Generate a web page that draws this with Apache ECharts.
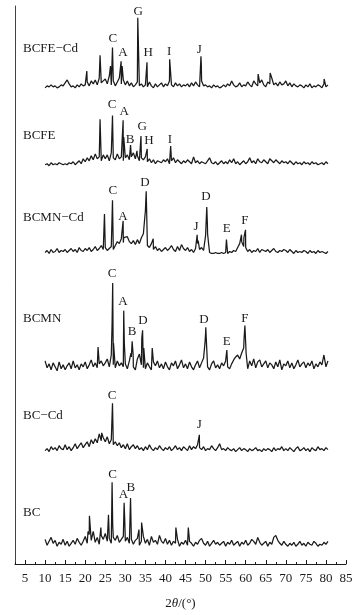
<!DOCTYPE html>
<html><head><meta charset="utf-8">
<script src="https://cdn.jsdelivr.net/npm/echarts@6/dist/echarts.min.js"></script>
<style>html,body{margin:0;padding:0;background:#fff}#c{width:358px;height:615px}</style>
</head><body><div id="c"></div>
<script>
// ---- data ----
const samples = ['BCFE\u2212Cd', 'BCFE', 'BCMN\u2212Cd', 'BCMN', 'BC\u2212Cd', 'BC'];
const xTickValues = [5,10,15,20,25,30,35,40,45,50,55,60,65,70,75,80,85];
const thetaStart = 10, thetaStep = 0.5; // sampling grid of the baseline readings (10 .. 80.5)
// stacking offsets of each pattern (a.u.)
const offsets = [481, 403, 313, 194, 112, 15];

// baseline readings every 0.5 deg, 10..80.5
const bcfeCdBase = [
 2,4,3,5,3,4,2,3,5,4,
 7,10,6,3,4,2,5,3,6,4,
 5,8,4,9,6,10,5,12,7,9,
 11,6,14,5,9,4,8,12,6,10,
 5,9,4,7,3,5,8,4,6,3,
 5,3,8,4,2,6,3,5,7,3,
 6,4,9,5,3,7,4,6,3,5,
 4,6,3,7,4,8,5,3,9,4,
 5,3,4,2,5,3,4,2,3,5,
 3,6,4,9,5,3,4,7,3,5,
 4,8,5,3,9,6,4,7,10,5,
 3,8,6,12,5,7,4,8,5,6,
 9,4,7,3,6,4,3,5,4,2,
 5,3,6,2,4,3,5,4,2,6,
 3,5];
const bcfeCdPeaks = [[20.4,19],[23.7,35],[26.3,24],[26.8,43],[28.95,29],[29.2,24],[29.35,22],[33.1,73],[35.4,28],[41.05,31],[48.85,34],[48.95,24],[56.55,11],[63.1,16],[66.1,17],[79.55,11]];
const bcfeCdLabels = [['C',26.9,52],['A',29.4,38],['G',33.2,79],['H',35.7,38],['I',40.9,39],['J',48.4,41]];

const bcfeBase = [
 2,3,1,4,2,3,2,4,3,2,
 3,2,4,3,5,2,4,6,3,8,
 5,9,6,11,7,13,8,10,6,12,
 8,12,6,14,9,7,13,8,10,6,
 9,12,7,10,14,8,11,6,9,7,
 10,5,8,4,7,3,6,5,4,7,
 5,8,3,6,9,4,7,5,3,6,
 4,7,5,3,10,4,6,3,5,4,
 3,6,9,4,3,5,2,4,6,3,
 5,3,7,4,8,3,5,2,4,6,
 3,5,9,4,6,3,8,5,4,7,
 5,3,8,6,4,7,5,3,6,4,
 5,3,6,4,2,5,3,4,2,5,
 3,4,2,5,3,4,2,3,4,2,
 5,3];
const bcfePeaks = [[22.9,15],[23.7,48],[25.8,12],[26.8,52],[29.45,47],[29.6,30],[31.3,22],[32.9,16],[33.9,31],[35.45,18],[41.3,21]];
const bcfeLabels = [['C',26.7,63],['A',29.7,56],['B',31.2,27],['G',34.2,41],['H',35.9,26],['I',41.1,28]];

const bcmnCdBase = [
 3,5,2,6,3,4,7,3,5,4,
 6,3,5,7,4,6,3,8,5,4,
 7,5,8,4,6,9,5,7,10,6,
 8,5,7,9,6,10,14,12,17,13,
 16,19,14,12,15,11,16,12,18,22,
 45,10,8,12,6,9,5,7,4,6,
 8,5,7,10,6,4,9,5,11,7,
 5,8,4,6,3,7,12,6,8,5,
 20,22,3,2,2,3,2,2,3,2,
 3,2,4,3,5,4,8,12,14,9,
 8,4,6,3,5,4,7,3,6,5,
 4,6,3,5,7,4,3,5,4,6,
 5,3,6,4,2,5,3,4,3,5,
 4,2,5,3,4,2,5,3,4,3,
 2,4];
const bcmnCdPeaks = [[24.8,42],[26.8,56],[29.45,35],[29.6,18],[34.9,41],[35.2,65],[36.95,17],[47.9,21],[48.15,15],[50.15,35],[50.3,49],[50.45,32],[50.75,12],[55.2,16],[58.95,21],[59.3,14],[59.55,18],[59.95,26],[60.2,10]];
const bcmnCdLabels = [['C',26.9,66],['A',29.4,39],['D',34.9,74],['J',47.6,29],['D',50.1,60],['E',55.3,27],['F',59.8,35]];

const bcmnBase = [
 12,5,9,3,10,6,2,11,4,8,
 3,7,10,4,12,5,8,3,9,6,
 11,4,8,13,6,10,5,9,12,7,
 10,14,6,18,8,5,12,7,10,6,
 9,4,12,16,6,3,14,19,8,5,
 4,10,6,3,11,7,12,5,9,4,
 11,6,3,10,7,12,4,8,13,5,
 9,4,11,6,3,8,12,5,10,15,
 40,6,3,9,12,5,8,4,10,7,
 12,6,4,9,13,16,18,14,20,25,
 30,4,12,7,14,5,11,13,6,9,
 12,5,10,8,4,11,6,13,3,9,
 7,12,5,10,4,8,13,6,9,11,
 5,10,7,12,4,9,6,11,8,18,
 6,12];
const bcmnPeaks = [[23.2,26],[26.7,50],[26.85,91],[27.05,30],[29.6,63],[29.75,30],[29.9,28],[31.4,20],[31.7,32],[31.95,18],[34.1,35],[34.3,43],[34.6,25],[36.7,25],[49.85,30],[50.05,46],[50.25,28],[55.3,23],[59.6,35],[59.8,48],[60.1,20],[79.6,18]];
const bcmnLabels = [['C',26.7,101],['A',29.4,72],['B',31.7,42],['D',34.4,53],['D',49.6,54],['E',55.3,32],['F',59.8,55]];

const bcCdBase = [
 3,5,2,7,4,6,3,8,5,4,
 9,4,7,3,6,10,5,8,11,6,
 9,12,7,14,10,15,11,20,13,16,
 12,17,10,14,9,12,8,11,6,9,
 5,10,4,7,9,5,8,4,6,3,
 7,4,9,5,3,6,4,8,5,3,
 6,4,7,3,5,8,4,6,3,7,
 5,3,8,4,7,5,9,6,4,7,
 3,5,4,8,5,3,6,10,4,5,
 3,6,4,3,5,2,4,6,3,5,
 4,2,5,3,4,6,3,4,2,5,
 3,5,4,2,6,3,5,4,7,3,
 5,3,6,4,2,5,7,3,4,6,
 3,5,2,6,4,3,7,4,5,3,
 6,4];
const bcCdPeaks = [[24.1,21],[26.8,51],[26.95,20],[48.45,19]];
const bcCdLabels = [['C',26.7,59],['J',48.4,29]];

const bcBase = [
 10,4,8,12,6,9,3,7,5,10,
 4,8,3,6,9,5,11,7,4,8,
 13,6,15,9,18,7,12,5,14,10,
 16,8,11,6,12,9,14,7,10,13,
 8,12,6,10,5,9,11,4,8,13,
 6,10,4,13,7,9,5,14,8,6,
 11,5,9,4,8,6,10,3,7,5,
 9,4,8,6,3,7,5,9,11,6,
 4,8,3,6,9,5,7,4,6,8,
 3,7,5,9,4,6,8,3,7,5,
 9,4,6,10,8,5,12,7,4,6,
 8,3,7,5,12,14,9,6,4,8,
 5,3,6,4,7,3,5,8,4,6,
 3,7,5,4,8,6,3,5,4,7,
 5,8];
const bcPeaks = [[20.7,18],[21.05,34],[23.9,22],[25.8,35],[26.7,68],[26.85,25],[29.7,47],[29.85,30],[31.3,52],[31.45,22],[33.4,20],[34.05,27],[42.6,22],[45.7,22]];
const bcLabels = [['C',26.85,76],['A',29.5,55],['B',31.4,63]];

// ---- build ----
const traces = [
  [bcfeCdBase, bcfeCdPeaks, bcfeCdLabels],
  [bcfeBase, bcfePeaks, bcfeLabels],
  [bcmnCdBase, bcmnCdPeaks, bcmnCdLabels],
  [bcmnBase, bcmnPeaks, bcmnLabels],
  [bcCdBase, bcCdPeaks, bcCdLabels],
  [bcBase, bcPeaks, bcLabels]
];
const SERIF = "'Liberation Serif','DejaVu Serif',serif";
const INK = '#1a1a1a';

const series = traces.map(([base, peaks, labels], k) => {
  const off = offsets[k];
  const pts = base.map((v, i) => [thetaStart + i * thetaStep, v]).concat(peaks.map(p => [p[0], p[1]]));
  pts.sort((a, b) => a[0] - b[0]);
  return {
    type: 'line', name: samples[k], xAxisIndex: 0, yAxisIndex: 0,
    showSymbol: false, symbol: 'none', animation: false,
    lineStyle: { color: INK, width: 1.25 },
    data: pts.map(p => [p[0], p[1] + off]),
    markPoint: {
      symbol: 'circle', symbolSize: 0, animation: false,
      label: { show: true, position: 'inside', color: INK, fontFamily: SERIF, fontSize: 13,
               formatter: p => p.data.name },
      data: labels.map(l => ({ name: l[0], coord: [l[1], l[2] + off] }))
    }
  };
});

const nameTops = [49, 136, 218, 319, 416, 513];
const graphics = samples.map((s, k) => ({
  type: 'text', x: 23, y: nameTops[k], silent: true,
  style: { text: s, fill: INK, font: '13px ' + SERIF, verticalAlign: 'middle', align: 'left' }
}));

const chart = echarts.init(document.getElementById('c'), null, { renderer: 'canvas' });
chart.setOption({
  backgroundColor: '#fff',
  animation: false,
  grid: { left: 15, right: 12, top: 6, bottom: 43, containLabel: false },
  xAxis: [
    {
      type: 'value', min: 2.5, max: 85, interval: 2.5, position: 'bottom',
      axisLine: { show: true, lineStyle: { color: INK, width: 1 } },
      axisTick: { show: true, inside: true, length: 4, customValues: xTickValues, lineStyle: { color: INK } },
      axisLabel: { show: true, customValues: xTickValues, color: INK, fontFamily: SERIF, fontSize: 13, margin: 8 },
      splitLine: { show: false },
      name: '2{i|\u03b8}/(\u00b0)', nameLocation: 'middle', nameGap: 33,
      nameTextStyle: { color: INK, fontFamily: SERIF, fontSize: 13,
        rich: { i: { fontStyle: 'italic', fontFamily: SERIF, fontSize: 13, color: INK } } }
    },
    {
      type: 'value', min: 2.5, max: 85, interval: 2.5, position: 'bottom', gridIndex: 0,
      axisLine: { show: false },
      axisTick: { show: true, inside: true, length: 2, lineStyle: { color: INK } },
      axisLabel: { show: false }, splitLine: { show: false }
    }
  ],
  yAxis: {
    type: 'value', min: 0, max: 566,
    axisLine: { show: true, lineStyle: { color: '#444', width: 1 } },
    axisTick: { show: false }, axisLabel: { show: false }, splitLine: { show: false }
  },
  graphic: graphics,
  series: series
});
</script>
</body></html>
